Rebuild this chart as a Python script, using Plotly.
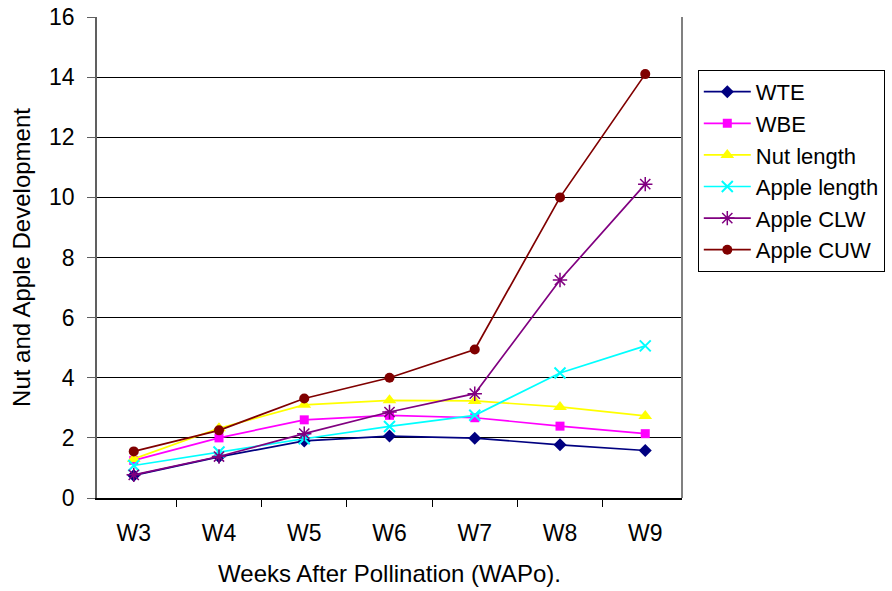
import plotly.graph_objects as go

weeks = ["W3", "W4", "W5", "W6", "W7", "W8", "W9"]
wte = [0.75, 1.37, 1.90, 2.06, 1.99, 1.77, 1.58]
wbe = [1.25, 2.00, 2.60, 2.75, 2.67, 2.39, 2.14]
nut_length = [1.30, 2.32, 3.10, 3.25, 3.23, 3.03, 2.73]
apple_length = [1.08, 1.53, 1.97, 2.38, 2.75, 4.16, 5.06]
apple_clw = [0.77, 1.38, 2.14, 2.86, 3.47, 7.25, 10.44]
apple_cuw = [1.55, 2.25, 3.31, 4.00, 4.94, 10.00, 14.10]

series = [
    ("WTE", wte, "#000080", "diamond", 10, 0),
    ("WBE", wbe, "#FF00FF", "square", 9, 0),
    ("Nut length", nut_length, "#FFFF00", "triangle-up", 12, 0),
    ("Apple length", apple_length, "#00FFFF", "x-thin-open", 11, 2),
    ("Apple CLW", apple_clw, "#800080", "asterisk-open", 12, 1.5),
    ("Apple CUW", apple_cuw, "#800000", "circle", 10, 0),
]

fig = go.Figure()
for name, vals, color, sym, size, lw in series:
    marker = dict(symbol=sym, size=size, color=color)
    if lw:
        marker["line"] = dict(color=color, width=lw)
    else:
        marker["line"] = dict(width=0)
    fig.add_trace(go.Scatter(x=weeks, y=vals, name=name, mode="lines+markers",
                             line=dict(color=color, width=1.7), marker=marker))

fam = "Liberation Sans, Arial"
tick_font = dict(family=fam, size=23, color="black")
title_font = dict(family=fam, size=24, color="black")
legend_font = dict(family=fam, size=22, color="black")
fig.update_layout(
    width=892, height=591,
    margin=dict(l=97, r=210, t=17, b=93, autoexpand=False),
    paper_bgcolor="white", plot_bgcolor="white",
    font=tick_font,
    showlegend=True,
    legend=dict(x=1.027, y=0.89, xanchor="left", yanchor="top",
                bordercolor="black", borderwidth=1, font=legend_font,
                tracegroupgap=0, itemwidth=47),
    xaxis=dict(
        title=dict(text="Weeks After Pollination (WAPo).", font=title_font, standoff=20),
        tickson="boundaries", ticks="outside", ticklen=7, tickcolor="black",
        ticklabelstandoff=14, automargin=False,
        showline=True, linecolor="black", linewidth=1.5, showgrid=False,
        mirror=False, tickfont=tick_font,
    ),
    yaxis=dict(
        title=dict(text="Nut and Apple Development", font=title_font, standoff=12),
        range=[0, 16], dtick=2, tickformat="d",
        ticks="outside", ticklen=8, tickcolor="#606060",
        ticklabelstandoff=8, automargin=False,
        showline=True, linecolor="#606060", linewidth=1.5,
        showgrid=True, gridcolor="black", gridwidth=1,
        zeroline=False, tickfont=tick_font,
    ),
    shapes=[dict(type="line", xref="paper", yref="paper", x0=1, x1=1, y0=0, y1=1,
                 line=dict(color="#808080", width=2))],
)

fig.write_html("out.html")
